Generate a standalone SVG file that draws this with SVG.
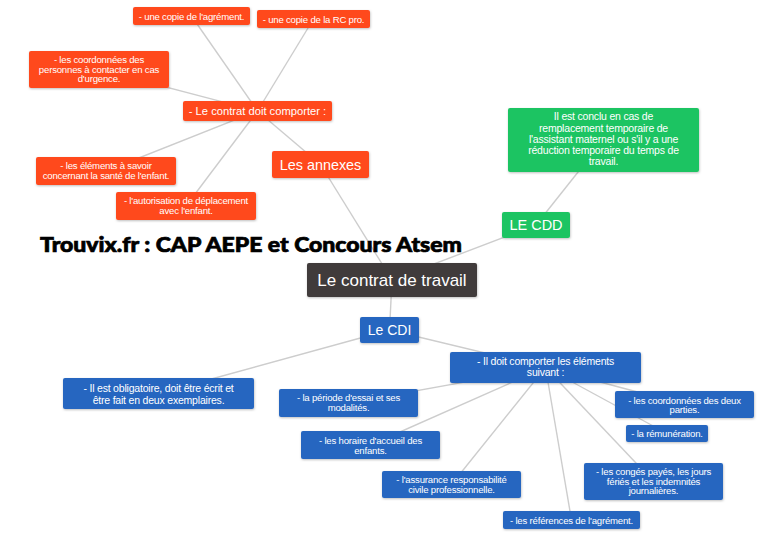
<svg xmlns="http://www.w3.org/2000/svg" width="780" height="549" viewBox="0 0 780 549">
<defs>
<filter id="sh" x="-10%" y="-20%" width="120%" height="150%">
<feDropShadow dx="0.5" dy="1" stdDeviation="0.8" flood-color="#000" flood-opacity="0.25"/>
</filter>
<style>
.o{fill:#ff4a1e;filter:url(#sh)}
.g{fill:#1ec462;filter:url(#sh)}
.b{fill:#2566c0;filter:url(#sh)}
.d{fill:#3f3b3a;filter:url(#sh)}
text{font-family:"Liberation Sans",Arial,sans-serif;fill:#fff;text-anchor:middle}
.s{font-size:9.6px;letter-spacing:-0.2px}
.m{font-size:10.5px;letter-spacing:-0.2px}
.c line{stroke:#cdcdcd;stroke-width:1.4}
.t{font-family:Lato,"DejaVu Sans",sans-serif;font-weight:900;fill:#000;stroke:#000;stroke-width:0.7;text-anchor:start;font-size:20px}
</style>
</defs>
<rect width="780" height="549" fill="#fff"/>
<g class="c" id="connectors">
<line x1="257.5" y1="111" x2="191.5" y2="16"/>
<line x1="257.5" y1="111" x2="313.5" y2="19"/>
<line x1="257.5" y1="111" x2="99" y2="69.5"/>
<line x1="257.5" y1="111" x2="106" y2="171"/>
<line x1="257.5" y1="111" x2="186" y2="206"/>
<line x1="257.5" y1="111" x2="320.5" y2="164.5"/>
<line x1="320.5" y1="164.5" x2="392" y2="280"/>
<line x1="392" y1="280" x2="536" y2="225"/>
<line x1="536" y1="225" x2="603.5" y2="140"/>
<line x1="392" y1="280" x2="389.5" y2="330"/>
<line x1="389.5" y1="330" x2="158.5" y2="393.5"/>
<line x1="389.5" y1="330" x2="545.5" y2="367.5"/>
<line x1="545.5" y1="367.5" x2="348.5" y2="403"/>
<line x1="545.5" y1="367.5" x2="370.5" y2="445"/>
<line x1="545.5" y1="367.5" x2="451.5" y2="484.5"/>
<line x1="545.5" y1="367.5" x2="571.5" y2="520"/>
<line x1="545.5" y1="367.5" x2="653.5" y2="481.5"/>
<line x1="545.5" y1="367.5" x2="667" y2="433.5"/>
<line x1="545.5" y1="367.5" x2="684.5" y2="404.5"/>
</g>
<g id="n-agrement"><rect class="o" x="133" y="7" width="117" height="18" rx="2"/><text class="s" x="191.5" y="19.5">- une copie de l'agrément.</text></g>
<g id="n-rcpro"><rect class="o" x="257" y="10" width="113" height="18" rx="2"/><text class="s" x="313.5" y="22.5">- une copie de la RC pro.</text></g>
<g id="n-urgence"><rect class="o" x="29" y="51" width="140" height="37" rx="2"/><text class="s" x="99"><tspan x="99" y="63.3">- les coordonnées des</tspan><tspan x="99" y="72.8">personnes à contacter en cas</tspan><tspan x="99" y="82.3">d'urgence.</tspan></text></g>
<g id="n-contrat-comporter"><rect class="o" x="183" y="101" width="149" height="20" rx="2"/><text x="257.5" y="115" font-size="11.2px">- Le contrat doit comporter :</text></g>
<g id="n-sante"><rect class="o" x="36" y="157" width="140" height="28" rx="2"/><text class="s" x="106"><tspan x="106" y="168.5">- les éléments à savoir</tspan><tspan x="106" y="178.5">concernant la santé de l'enfant.</tspan></text></g>
<g id="n-deplacement"><rect class="o" x="116" y="192" width="140" height="28" rx="2"/><text class="s" x="186"><tspan x="186" y="203.5">- l'autorisation de déplacement</tspan><tspan x="186" y="213.5">avec l'enfant.</tspan></text></g>
<g id="n-annexes"><rect class="o" x="272" y="151" width="97" height="27" rx="2"/><text x="320.5" y="169.5" font-size="14.4px">Les annexes</text></g>
<g id="n-cdd-desc"><rect class="g" x="508" y="108" width="191" height="64" rx="2"/><text class="m" x="603.5"><tspan x="603.5" y="120.2">Il est conclu en cas de</tspan><tspan x="603.5" y="131.5">remplacement temporaire de</tspan><tspan x="603.5" y="142.8">l'assistant maternel ou s'il y a une</tspan><tspan x="603.5" y="154.1">réduction temporaire du temps de</tspan><tspan x="603.5" y="165.4">travail.</tspan></text></g>
<g id="n-cdd"><rect class="g" x="502" y="212" width="68" height="26" rx="2"/><text x="536" y="230" font-size="14.5px">LE CDD</text></g>
<text class="t" x="40" y="252" textLength="422" lengthAdjust="spacingAndGlyphs">Trouvix.fr : CAP AEPE et Concours Atsem</text>
<g id="n-root"><rect class="d" x="307" y="263" width="170" height="34" rx="2"/><text x="392" y="286" font-size="17px">Le contrat de travail</text></g>
<g id="n-cdi"><rect class="b" x="360" y="317" width="59" height="26" rx="2"/><text x="389.5" y="335" font-size="14px">Le CDI</text></g>
<g id="n-obligatoire"><rect class="b" x="63" y="378" width="191" height="31" rx="2"/><text class="m" x="158.5"><tspan x="158.5" y="391.5">- Il est obligatoire, doit être écrit et</tspan><tspan x="158.5" y="403.5">être fait en deux exemplaires.</tspan></text></g>
<g id="n-elements"><rect class="b" x="450" y="352" width="191" height="31" rx="2"/><text class="m" x="545.5"><tspan x="545.5" y="364.5">- Il doit comporter les éléments</tspan><tspan x="545.5" y="376">suivant :</tspan></text></g>
<g id="n-essai"><rect class="b" x="279" y="389" width="139" height="28" rx="2"/><text class="s" x="348.5"><tspan x="348.5" y="401">- la période d'essai et ses</tspan><tspan x="348.5" y="411">modalités.</tspan></text></g>
<g id="n-horaire"><rect class="b" x="301" y="431" width="139" height="28" rx="2"/><text class="s" x="370.5"><tspan x="370.5" y="443.5">- les horaire d'accueil des</tspan><tspan x="370.5" y="453.5">enfants.</tspan></text></g>
<g id="n-parties"><rect class="b" x="615" y="391" width="139" height="27" rx="2"/><text class="s" x="684.5"><tspan x="684.5" y="403.5">- les coordonnées des deux</tspan><tspan x="684.5" y="413">parties.</tspan></text></g>
<g id="n-remuneration"><rect class="b" x="626" y="425" width="82" height="17" rx="2"/><text class="s" x="667" y="437">- la rémunération.</text></g>
<g id="n-assurance"><rect class="b" x="382" y="471" width="139" height="27" rx="2"/><text class="s" x="451.5"><tspan x="451.5" y="483">- l'assurance responsabilité</tspan><tspan x="451.5" y="492.5">civile professionnelle.</tspan></text></g>
<g id="n-references"><rect class="b" x="503" y="511" width="137" height="18" rx="2"/><text class="s" x="571.5" y="523.5">- les références de l'agrément.</text></g>
<g id="n-conges"><rect class="b" x="584" y="463" width="139" height="37" rx="2"/><text class="s" x="653.5"><tspan x="653.5" y="475">- les congés payés, les jours</tspan><tspan x="653.5" y="484.5">fériés et les indemnités</tspan><tspan x="653.5" y="494">journalières.</tspan></text></g>
</svg>
